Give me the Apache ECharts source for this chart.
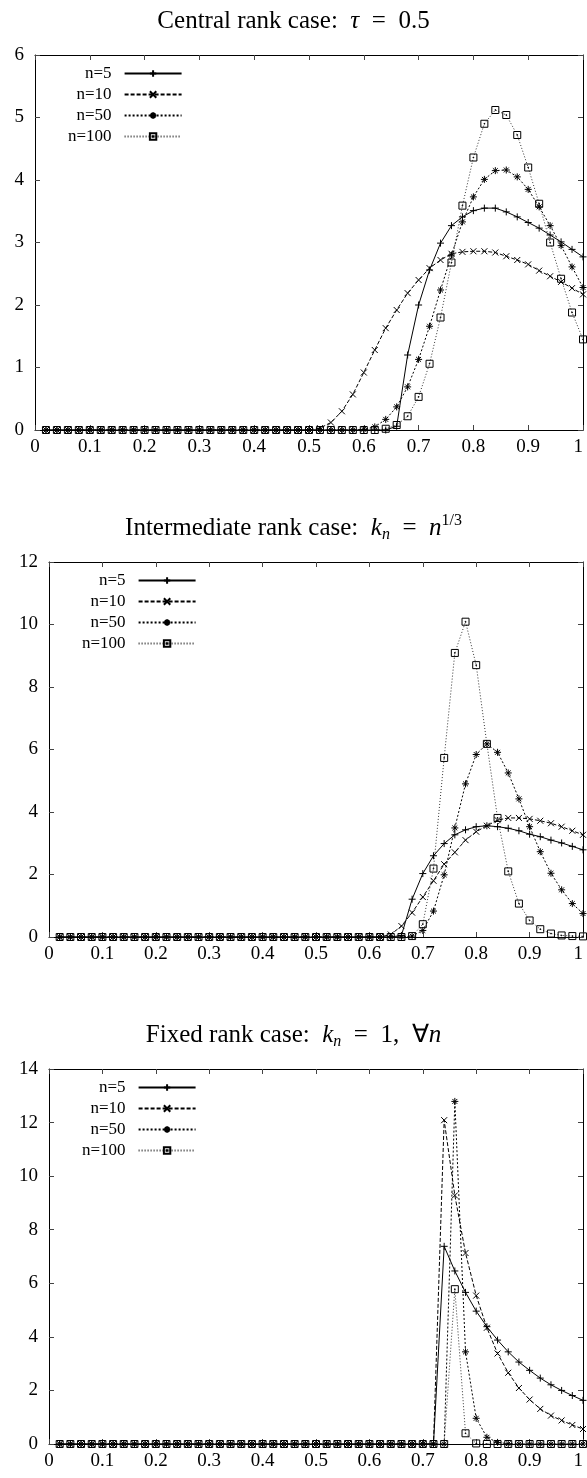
<!DOCTYPE html>
<html>
<head>
<meta charset="utf-8">
<script src="https://cdn.jsdelivr.net/npm/echarts@6/dist/echarts.min.js"></script>
<style>
  html, body { margin: 0; padding: 0; background: #fff; }
  #chart { width: 587px; height: 1478px; }
</style>
</head>
<body>
<div id="chart"></div>
<script>
// x grid shared by all three panels
var xs = [0.02, 0.04, 0.06, 0.08, 0.10, 0.12, 0.14, 0.16, 0.18, 0.20,
          0.22, 0.24, 0.26, 0.28, 0.30, 0.32, 0.34, 0.36, 0.38, 0.40,
          0.42, 0.44, 0.46, 0.48, 0.50, 0.52, 0.54, 0.56, 0.58, 0.60,
          0.62, 0.64, 0.66, 0.68, 0.70, 0.72, 0.74, 0.76, 0.78, 0.80,
          0.82, 0.84, 0.86, 0.88, 0.90, 0.92, 0.94, 0.96, 0.98, 1.00];

var seriesNames = ['n=5', 'n=10', 'n=50', 'n=100'];

// central rank case: tau = 0.5
var central_n5 = [0, 0, 0, 0, 0, 0, 0, 0, 0, 0,
                  0, 0, 0, 0, 0, 0, 0, 0, 0, 0,
                  0, 0, 0, 0, 0, 0, 0, 0, 0, 0,
                  0, 0, 0.06, 1.2, 2.0, 2.56, 2.99, 3.27, 3.41, 3.51,
                  3.55, 3.55, 3.49, 3.41, 3.32, 3.23, 3.12, 3.01, 2.89, 2.77];
var central_n10 = [0, 0, 0, 0, 0, 0, 0, 0, 0, 0,
                   0, 0, 0, 0, 0, 0, 0, 0, 0, 0,
                   0, 0, 0, 0, 0, 0.03, 0.12, 0.3, 0.57, 0.92,
                   1.28, 1.63, 1.92, 2.19, 2.40, 2.59, 2.72, 2.82, 2.85, 2.86,
                   2.86, 2.84, 2.78, 2.72, 2.65, 2.55, 2.46, 2.37, 2.27, 2.17];
var central_n50 = [0, 0, 0, 0, 0, 0, 0, 0, 0, 0,
                   0, 0, 0, 0, 0, 0, 0, 0, 0, 0,
                   0, 0, 0, 0, 0, 0, 0, 0, 0, 0.01,
                   0.05, 0.17, 0.37, 0.69, 1.13, 1.66, 2.24, 2.80, 3.33, 3.73,
                   4.01, 4.15, 4.16, 4.05, 3.85, 3.57, 3.27, 2.95, 2.61, 2.28];
var central_n100 = [0, 0, 0, 0, 0, 0, 0, 0, 0, 0,
                    0, 0, 0, 0, 0, 0, 0, 0, 0, 0,
                    0, 0, 0, 0, 0, 0, 0, 0, 0, 0,
                    0, 0.02, 0.08, 0.22, 0.53, 1.06, 1.80, 2.68, 3.59, 4.36,
                    4.90, 5.12, 5.04, 4.72, 4.20, 3.62, 3.00, 2.42, 1.88, 1.45];

// intermediate rank case: k_n = n^(1/3)
var inter_n5 = [0, 0, 0, 0, 0, 0, 0, 0, 0, 0,
                0, 0, 0, 0, 0, 0, 0, 0, 0, 0,
                0, 0, 0, 0, 0, 0, 0, 0, 0, 0,
                0, 0, 0.05, 1.21, 2.03, 2.60, 2.99, 3.27, 3.43, 3.53,
                3.56, 3.53, 3.48, 3.40, 3.29, 3.21, 3.10, 3.01, 2.90, 2.79];
var inter_n10 = [0, 0, 0, 0, 0, 0, 0, 0, 0, 0,
                 0, 0, 0, 0, 0, 0, 0, 0, 0, 0,
                 0, 0, 0, 0, 0, 0, 0, 0, 0, 0,
                 0, 0.08, 0.35, 0.78, 1.28, 1.80, 2.33, 2.71, 3.10, 3.37,
                 3.56, 3.74, 3.81, 3.81, 3.78, 3.72, 3.64, 3.53, 3.40, 3.27];
var inter_n50 = [0, 0, 0, 0, 0, 0, 0, 0, 0, 0,
                 0, 0, 0, 0, 0, 0, 0, 0, 0, 0,
                 0, 0, 0, 0, 0, 0, 0, 0, 0, 0,
                 0, 0, 0, 0.03, 0.21, 0.83, 1.99, 3.49, 4.90, 5.84,
                 6.18, 5.91, 5.25, 4.42, 3.53, 2.73, 2.04, 1.51, 1.07, 0.75];
var inter_n100 = [0, 0, 0, 0, 0, 0, 0, 0, 0, 0,
                  0, 0, 0, 0, 0, 0, 0, 0, 0, 0,
                  0, 0, 0, 0, 0, 0, 0, 0, 0, 0,
                  0, 0, 0, 0.03, 0.41, 2.19, 5.73, 9.09, 10.09, 8.70,
                  6.18, 3.81, 2.10, 1.07, 0.53, 0.25, 0.11, 0.05, 0.03, 0.02];

// fixed rank case: k_n = 1
var fixed_n5 = [0, 0, 0, 0, 0, 0, 0, 0, 0, 0,
                0, 0, 0, 0, 0, 0, 0, 0, 0, 0,
                0, 0, 0, 0, 0, 0, 0, 0, 0, 0,
                0, 0, 0, 0, 0, 0, 7.38, 6.46, 5.66, 4.96,
                4.38, 3.88, 3.44, 3.06, 2.75, 2.46, 2.21, 2.00, 1.81, 1.63];
var fixed_n10 = [0, 0, 0, 0, 0, 0, 0, 0, 0, 0,
                 0, 0, 0, 0, 0, 0, 0, 0, 0, 0,
                 0, 0, 0, 0, 0, 0, 0, 0, 0, 0,
                 0, 0, 0, 0, 0, 0, 12.09, 9.28, 7.13, 5.54,
                 4.34, 3.38, 2.66, 2.09, 1.66, 1.31, 1.06, 0.88, 0.71, 0.56];
var fixed_n50 = [0, 0, 0, 0, 0, 0, 0, 0, 0, 0,
                 0, 0, 0, 0, 0, 0, 0, 0, 0, 0,
                 0, 0, 0, 0, 0, 0, 0, 0, 0, 0,
                 0, 0, 0, 0, 0, 0, 0, 12.79, 3.44, 0.96,
                 0.25, 0.06, 0.01, 0, 0, 0, 0, 0, 0, 0];
var fixed_n100 = [0, 0, 0, 0, 0, 0, 0, 0, 0, 0,
                  0, 0, 0, 0, 0, 0, 0, 0, 0, 0,
                  0, 0, 0, 0, 0, 0, 0, 0, 0, 0,
                  0, 0, 0, 0, 0, 0, 0, 5.78, 0.40, 0.02,
                  0, 0, 0, 0, 0, 0, 0, 0, 0, 0];

var yMax = [6, 12, 14];
var yStep = [1, 2, 2];

var panels = [
    [central_n5, central_n10, central_n50, central_n100],
    [inter_n5, inter_n10, inter_n50, inter_n100],
    [fixed_n5, fixed_n10, fixed_n50, fixed_n100]
];

var titles = [
    '{r|Central rank case:  }{i|τ}{r|  =  0.5}',
    '{r|Intermediate rank case:  }{i|k}{sub|n}{r|  =  }{i|n}{sup|1/3}',
    '{r|Fixed rank case:  }{i|k}{sub|n}{r|  =  1,  ∀}{i|n}'
];

var serif = 'Liberation Serif';

// 图形布局
var gridTop = [55, 562, 1069];
var gridLeft = [35, 49, 49];

// 每条曲线的样式 (gnuplot 风格)
var styles = [
    { symbol: 'path://M5,0L5,10M0,5L10,5', size: 7, dash: 'solid', color: '#000' },
    { symbol: 'path://M0,0L10,10M10,0L0,10', size: 6, dash: [4, 2], color: '#000' },
    { symbol: 'path://M5,0L5,10M0,5L10,5M1.5,1.5L8.5,8.5M8.5,1.5L1.5,8.5', size: 7, dash: [2, 2], color: '#000' },
    { symbol: 'path://M0,0L10,0L10,10L0,10Z M4.5,4.5L5.5,4.5L5.5,5.5L4.5,5.5Z', size: 7, dash: [1, 2], color: '#333' }
];

function fmtX(v) {
    return String(+v.toFixed(1));
}

var grid = [], xAxis = [], yAxis = [], series = [], title = [], legend = [];

for (var g = 0; g < 3; g++) {
    grid.push({ left: gridLeft[g], right: 4, top: gridTop[g], height: 375 });

    title.push({
        text: titles[g],
        left: 'center',
        top: gridTop[g] - 54,
        textStyle: {
            fontFamily: serif,
            fontSize: 25,
            fontWeight: 'normal',
            color: '#000',
            lineHeight: 30,
            rich: {
                r: { fontFamily: serif, fontSize: 25, color: '#000', lineHeight: 30 },
                i: { fontFamily: serif, fontSize: 25, fontStyle: 'italic', color: '#000', lineHeight: 30 },
                sub: { fontFamily: serif, fontSize: 16, fontStyle: 'italic', color: '#000', verticalAlign: 'bottom', lineHeight: 16 },
                sup: { fontFamily: serif, fontSize: 16, color: '#000', verticalAlign: 'top', lineHeight: 16 }
            }
        }
    });

    // 下方 x 轴
    xAxis.push({
        gridIndex: g,
        type: 'value',
        min: 0,
        max: 1,
        interval: 0.1,
        axisLine: { onZero: false, lineStyle: { color: '#000', width: 1 } },
        axisTick: { inside: true, length: 5, lineStyle: { color: '#444' } },
        axisLabel: {
            fontFamily: serif, fontSize: 19, color: '#000', margin: 8,
            showMinLabel: true, showMaxLabel: true, hideOverlap: false,
            alignMaxLabel: 'right', formatter: fmtX
        },
        splitLine: { show: false }
    });
    // 上方 x 轴 (镜像刻度)
    xAxis.push({
        gridIndex: g,
        type: 'value',
        position: 'top',
        min: 0,
        max: 1,
        interval: 0.1,
        axisLine: { onZero: false, lineStyle: { color: '#000', width: 1 } },
        axisTick: { inside: true, length: 5, lineStyle: { color: '#444' } },
        axisLabel: { show: false },
        splitLine: { show: false }
    });
    // 左侧 y 轴
    yAxis.push({
        gridIndex: g,
        type: 'value',
        min: 0,
        max: yMax[g],
        interval: yStep[g],
        axisLine: { show: true, onZero: false, lineStyle: { color: '#000', width: 1 } },
        axisTick: { show: true, inside: true, length: 5, lineStyle: { color: '#444' } },
        axisLabel: { fontFamily: serif, fontSize: 19, color: '#000', margin: 11, showMinLabel: true, showMaxLabel: true },
        splitLine: { show: false }
    });
    // 右侧 y 轴
    yAxis.push({
        gridIndex: g,
        type: 'value',
        position: 'right',
        min: 0,
        max: yMax[g],
        interval: yStep[g],
        axisLine: { show: true, onZero: false, lineStyle: { color: '#000', width: 1 } },
        axisTick: { show: true, inside: true, length: 5, lineStyle: { color: '#444' } },
        axisLabel: { show: false },
        splitLine: { show: false }
    });

    for (var s = 0; s < 4; s++) {
        var ys = panels[g][s];
        var st = styles[s];
        series.push({
            name: seriesNames[s],
            type: 'line',
            xAxisIndex: g * 2,
            yAxisIndex: g * 2,
            data: xs.map(function (x, i) { return [x, ys[i]]; }),
            symbol: st.symbol,
            symbolSize: st.size,
            showAllSymbol: true,
            lineStyle: { color: st.color, width: 1, type: st.dash },
            itemStyle: { color: 'rgba(0,0,0,0)', borderColor: '#000', borderWidth: 1 },
            emphasis: { disabled: true }
        });
    }

    legend.push({
        data: seriesNames,
        orient: 'vertical',
        align: 'right',
        left: gridLeft[g] + 33,
        top: gridTop[g] + 10,
        padding: 0,
        itemWidth: 57,
        itemHeight: 8,
        itemGap: 4,
        selectedMode: false,
        textStyle: { fontFamily: serif, fontSize: 17, color: '#000', lineHeight: 14, padding: [0, 8, 0, 0] }
    });
}

var chart = echarts.init(document.getElementById('chart'));
chart.setOption({
    animation: false,
    backgroundColor: '#fff',
    title: title,
    legend: legend,
    grid: grid,
    xAxis: xAxis,
    yAxis: yAxis,
    series: series
});
</script>
</body>
</html>
